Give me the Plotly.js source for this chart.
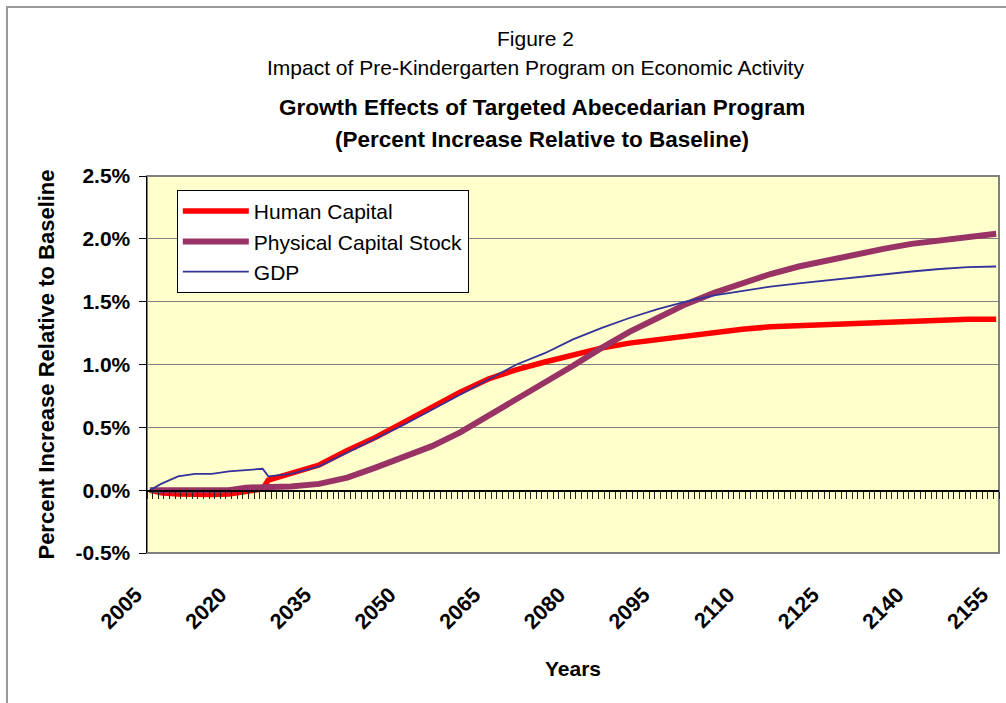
<!DOCTYPE html>
<html>
<head>
<meta charset="utf-8">
<script src="https://cdn.plot.ly/plotly-3.0.1.min.js"></script>
<style>
  html, body { margin: 0; padding: 0; background: #ffffff; }
  #wrap { position: relative; width: 1006px; height: 703px; overflow: hidden; }
  #frame { position: absolute; left: 6px; top: 6px; width: 1100px; height: 800px;
           border-left: 2px solid #9a9a9a; border-top: 2px solid #9a9a9a; pointer-events: none; }
  #chart { position: absolute; left: 0; top: 0; width: 1006px; height: 703px; }
</style>
</head>
<body>
<div id="wrap">
  <div id="chart"></div>
  <div id="frame"></div>
</div>
<script>
// ---- data (percent increase relative to baseline) ----
const years = [2005, 2007, 2010, 2013, 2016, 2019, 2022, 2024, 2025, 2026, 2030, 2035, 2040, 2045, 2050,
               2055, 2060, 2065, 2070, 2075, 2080, 2085, 2090, 2095, 2100, 2105, 2110, 2115, 2120,
               2125, 2130, 2135, 2140, 2145, 2150, 2155];
const humanCapital = [0, -0.02, -0.03, -0.035, -0.035, -0.03, -0.01, 0.0, 0.01, 0.08, 0.13, 0.20, 0.315, 0.42, 0.54,
               0.66, 0.78, 0.885, 0.96, 1.02, 1.08, 1.13, 1.17, 1.20, 1.23, 1.26, 1.28, 1.30, 1.31,
               1.32, 1.33, 1.34, 1.35, 1.36, 1.36, 1.36];
const physicalCapital = [0, 0, -0.005, -0.005, -0.005, 0.0, 0.02, 0.02, 0.02, 0.02, 0.03, 0.05, 0.10, 0.18, 0.26,
               0.35, 0.46, 0.59, 0.72, 0.85, 0.99, 1.13, 1.26, 1.37, 1.48, 1.57, 1.65, 1.72, 1.78,
               1.83, 1.88, 1.92, 1.96, 1.99, 2.02, 2.04];
const gdp = [0, 0.05, 0.11, 0.13, 0.13, 0.15, 0.16, 0.17, 0.17, 0.11, 0.13, 0.19, 0.30, 0.41, 0.52,
               0.64, 0.76, 0.88, 1.00, 1.09, 1.20, 1.29, 1.37, 1.44, 1.50, 1.55, 1.585, 1.62, 1.645,
               1.67, 1.69, 1.72, 1.74, 1.76, 1.775, 1.78];
const seriesNames = ["Human Capital", "Physical Capital Stock", "GDP"];
const xTickYears = [2005, 2020, 2035, 2050, 2065, 2080, 2095, 2110, 2125, 2140, 2155];
const yTicks = [-0.5, 0.0, 0.5, 1.0, 1.5, 2.0, 2.5];
const yTickLabels = ["-0.5%", "0.0%", "0.5%", "1.0%", "1.5%", "2.0%", "2.5%"];

const FONT = "Liberation Sans, Arial, Helvetica, sans-serif";

const traces = [
  { x: years, y: humanCapital, name: seriesNames[0], type: "scatter", mode: "lines",
    line: { color: "#FF0000", width: 5.5 } },
  { x: years, y: physicalCapital, name: seriesNames[1], type: "scatter", mode: "lines",
    line: { color: "#993366", width: 6 } },
  { x: years, y: gdp, name: seriesNames[2], type: "scatter", mode: "lines",
    line: { color: "#333399", width: 1.8 } }
];

const xr = [2004.5, 2155.5];
const layout = {
  width: 1006, height: 703,
  margin: { l: 147, r: 7, t: 176, b: 150 },
  paper_bgcolor: "rgba(0,0,0,0)",
  plot_bgcolor: "#FFFFCC",
  font: { family: FONT, color: "#000000", size: 20 },
  showlegend: true,
  legend: {
    x: 0.035, y: 0.963, xanchor: "left", yanchor: "top",
    bgcolor: "#FFFFFF", bordercolor: "#000000", borderwidth: 1,
    font: { family: FONT, size: 21, color: "#000000" },
    itemwidth: 66, tracegroupgap: 0
  },
  xaxis: {
    type: "linear", range: xr, tickvals: xTickYears, ticktext: xTickYears.map(String),
    tickangle: -45, ticks: "", ticklabelstandoff: 24, ticklabelshift: -14,
    tickfont: { family: FONT, size: 21.5, color: "#000000", weight: "bold" },
    showgrid: false, zeroline: false, showline: false,
    title: { text: "<b>Years</b>", font: { family: FONT, size: 21, color: "#000000" }, standoff: 28 }
  },
  xaxis2: {
    overlaying: "x", anchor: "free", position: 0.5 / 3, range: xr,
    tick0: 2004.5, dtick: 1, ticks: "outside", ticklen: 7, tickwidth: 1, tickcolor: "#222222",
    showticklabels: false, showgrid: false, zeroline: false,
    showline: true, linecolor: "#000000", linewidth: 1.5
  },
  yaxis: {
    range: [-0.5, 2.5], tickvals: yTicks, ticktext: yTickLabels,
    ticks: "outside", ticklen: 7, tickcolor: "#000000", tickwidth: 1,
    ticklabelstandoff: 4,
    tickfont: { family: FONT, size: 21, color: "#000000", weight: "bold" },
    showgrid: true, gridcolor: "#808080", gridwidth: 1, zeroline: false,
    showline: true, linecolor: "#000000", linewidth: 1.5,
    title: { text: "<b>Percent Increase Relative to Baseline</b>",
             font: { family: FONT, size: 22, color: "#000000" }, standoff: 14 }
  },
  shapes: [
    { type: "rect", xref: "paper", yref: "paper", x0: 0, x1: 1, y0: 0, y1: 1,
      line: { color: "#808080", width: 2 }, layer: "below" }
  ],
  annotations: [
    { text: "Figure 2", xref: "paper", yref: "paper", x: 0.456, y: 1.365, yanchor: "middle",
      showarrow: false, font: { family: FONT, size: 21, color: "#000000" } },
    { text: "Impact of Pre-Kindergarten Program on Economic Activity", xref: "paper", yref: "paper",
      x: 0.456, y: 1.288, yanchor: "middle", showarrow: false, font: { family: FONT, size: 21, color: "#000000" } },
    { text: "<b>Growth Effects of Targeted Abecedarian Program</b>", xref: "paper", yref: "paper",
      x: 0.4636, y: 1.1825, yanchor: "middle", showarrow: false, font: { family: FONT, size: 22.5, color: "#000000" } },
    { text: "<b>(Percent Increase Relative to Baseline)</b>", xref: "paper", yref: "paper",
      x: 0.4636, y: 1.098, yanchor: "middle", showarrow: false, font: { family: FONT, size: 22.5, color: "#000000" } }
  ]
};

// invisible trace bound to xaxis2 so its year ticks along the zero line are drawn
traces.push({ x: [xr[0], xr[1]], y: [0, 0], xaxis: "x2", yaxis: "y", type: "scatter", mode: "lines",
              line: { width: 0, color: "rgba(0,0,0,0)" }, showlegend: false, hoverinfo: "skip" });

Plotly.newPlot("chart", traces, layout, { displayModeBar: false, staticPlot: true });
</script>
</body>
</html>
